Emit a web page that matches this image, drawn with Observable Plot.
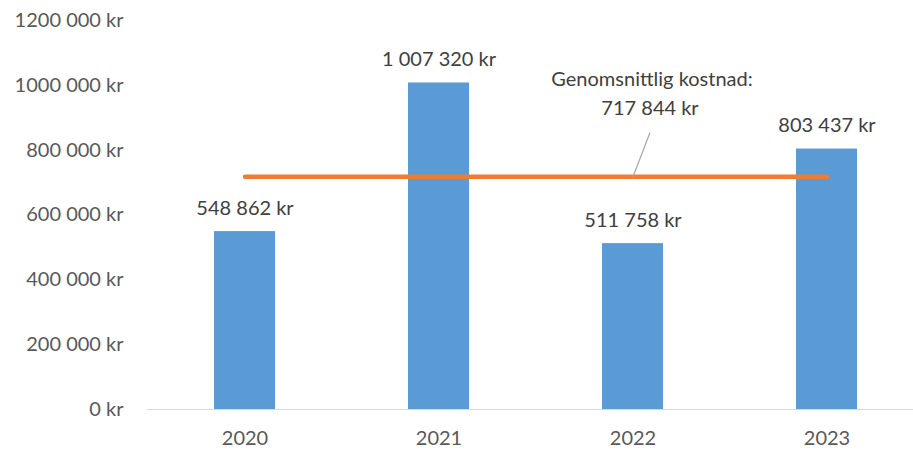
<!DOCTYPE html>
<html>
<head>
<meta charset="utf-8">
<script src="https://cdn.jsdelivr.net/npm/d3@7"></script>
<script src="https://cdn.jsdelivr.net/npm/@observablehq/plot@0.6"></script>
<style>
  html, body { margin: 0; padding: 0; background: #fff; }
  #chart { width: 913px; height: 452px; overflow: hidden; }
  #chart svg { max-width: none !important; height: 452px !important; }
</style>
</head>
<body>
<div id="chart"></div>
<script>
const years = ["2020", "2021", "2022", "2023"];
const costs = [548862, 1007320, 511758, 803437];
const average = 717844;
const avgLabelTitle = "Genomsnittlig kostnad:";
const yTicks = [0, 200000, 400000, 600000, 800000, 1000000, 1200000];
const yTickLabels = ["0 kr", "200 000 kr", "400 000 kr", "600 000 kr", "800 000 kr", "1000 000 kr", "1200 000 kr"];

const sv = d3.formatLocale({decimal: ",", thousands: " ", grouping: [3], currency: ["", " kr"]});
const fmt = v => sv.format(",")(v) + " kr";

const data = years.map((y, i) => ({year: y, cost: costs[i]}));
const avgData = years.map(y => ({year: y, avg: average}));

const FS = 20;
const chart = Plot.plot({
  width: 924,
  height: 452,
  marginLeft: 147,
  marginRight: 0,
  marginTop: 20,
  marginBottom: 43,
  style: {fontFamily: "Lato, 'Open Sans', sans-serif", fontSize: FS + "px", color: "#595959", background: "#fff", maxWidth: "none", overflow: "visible"},
  x: {domain: years, paddingInner: 0.686, paddingOuter: 0.343, label: null},
  y: {domain: [0, 1200000], label: null},
  marks: [
    Plot.axisY({ticks: yTicks, tickFormat: v => yTickLabels[yTicks.indexOf(v)], tickSize: 0, tickPadding: 24, fill: "#595959", fontSize: FS, label: null}),
    Plot.axisX({tickSize: 0, tickPadding: 21, fill: "#595959", fontSize: FS, label: null}),
    Plot.ruleY([0], {stroke: "#d9d9d9", strokeWidth: 1.2}),
    Plot.barY(data, {x: "year", y: "cost", fill: "#5b9bd5"}),
    Plot.text(data, {x: "year", y: "cost", text: d => fmt(d.cost), dy: -23, fill: "#404040", fontSize: FS}),
    Plot.lineY(avgData, {x: "year", y: "avg", stroke: "#ed7d31", strokeWidth: 4.5, strokeLinecap: "round"}),
    Plot.vector([average], {x: () => "2022", y: d => d, length: 47, rotate: 21, anchor: "start", r: 0, stroke: "#a6a6a6", strokeWidth: 1.2}),
    Plot.text([average], {x: () => "2022", y: d => d, text: () => avgLabelTitle, dx: 19, dy: -97, fill: "#404040", fontSize: FS}),
    Plot.text([average], {x: () => "2022", y: d => d, text: d => fmt(d), dx: 17, dy: -68, fill: "#404040", fontSize: FS})
  ]
});
document.getElementById("chart").appendChild(chart);
</script>
</body>
</html>
